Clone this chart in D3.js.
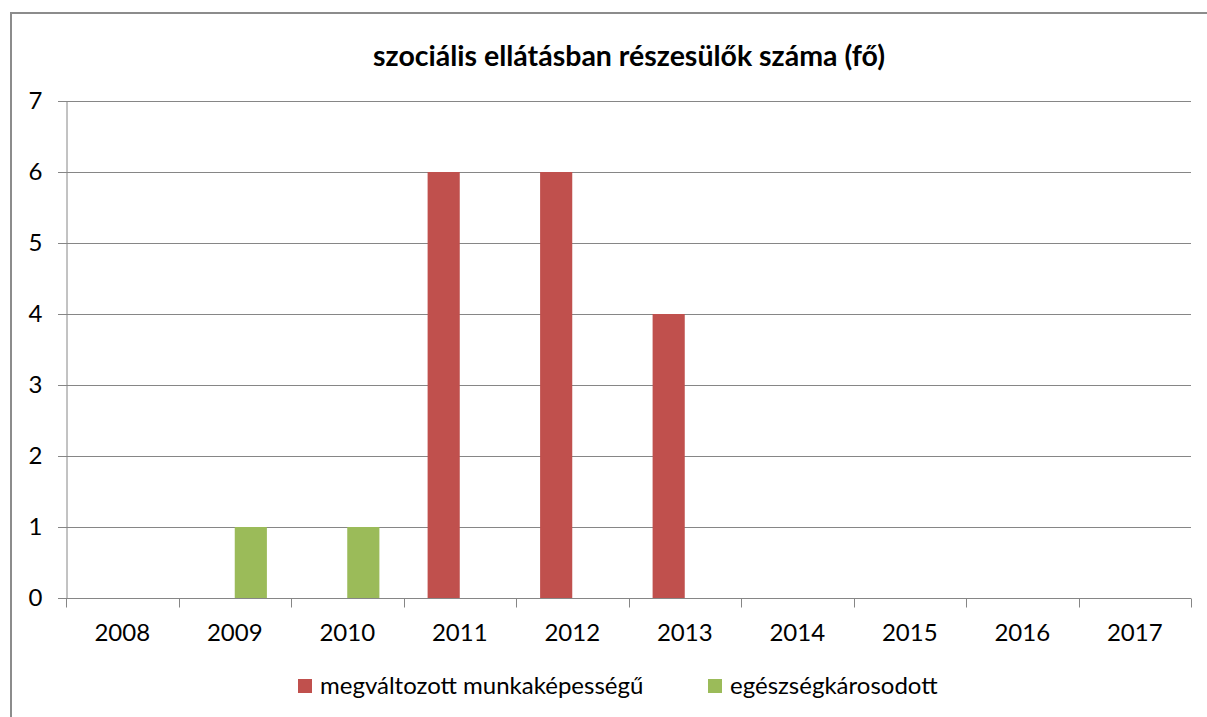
<!DOCTYPE html>
<html>
<head>
<meta charset="utf-8">
<script src="https://cdn.jsdelivr.net/npm/d3@7"></script>
<style>
  body { margin: 0; background: #fff; }
  #chart { width: 1207px; height: 717px; }
</style>
</head>
<body>
<div id="chart"></div>
<script>
// Chart data
let years = ['2008', '2009', '2010', '2011', '2012', '2013', '2014', '2015', '2016', '2017'];
let seriesNames = ['megváltozott munkaképességű', 'egészségkárosodott'];
let munkakepesseg = [0, 0, 0, 6, 6, 4, 0, 0, 0, 0];
let egeszseg = [0, 1, 1, 0, 0, 0, 0, 0, 0, 0];
let yTicks = [0, 1, 2, 3, 4, 5, 6, 7];
let colors = ['#C0504D', '#9BBB59'];

let width = 1207;
let height = 717;
let margin = { top: 101, right: 16, bottom: 119, left: 66 };
let font = 'Lato, "Open Sans", sans-serif';

let svg = d3.select('#chart').append('svg')
  .attr('width', width)
  .attr('height', height);

// Outer chart border
svg.append('rect')
  .attr('x', 11).attr('y', 13)
  .attr('width', width + 10).attr('height', height + 10)
  .attr('fill', 'none')
  .attr('stroke', '#8c8c8c')
  .attr('stroke-width', 2);

// Title
svg.append('text')
  .attr('x', 629).attr('y', 66)
  .attr('text-anchor', 'middle')
  .attr('font-family', font)
  .attr('font-weight', 'bold')
  .attr('font-size', 28.5)
  .attr('fill', '#000')
  .text('szociális ellátásban részesülők száma (fő)');

// Scales
let x = d3.scaleBand()
  .domain(years)
  .range([margin.left, width - margin.right]);

let xInner = d3.scaleBand()
  .domain(seriesNames)
  .range([0, x.bandwidth()])
  .paddingInner(0)
  .paddingOuter(0.75);

let y = d3.scaleLinear()
  .domain([0, 7])
  .range([height - margin.bottom, margin.top]);

// Gridlines
svg.append('g')
  .selectAll('line')
  .data(yTicks.filter(d => d > 0))
  .enter()
  .append('line')
  .attr('x1', margin.left - 8)
  .attr('x2', width - margin.right)
  .attr('y1', d => Math.round(y(d)) + 0.5)
  .attr('y2', d => Math.round(y(d)) + 0.5)
  .attr('stroke', '#868686')
  .attr('stroke-width', 1);

// Bars
let table = years.map((yr, i) => ({ year: yr, values: [munkakepesseg[i], egeszseg[i]] }));

let groups = svg.selectAll('g.year')
  .data(table)
  .enter()
  .append('g')
  .classed('year', true)
  .attr('transform', d => `translate(${x(d.year)},0)`);

groups.selectAll('rect')
  .data(d => d.values.map((v, j) => ({ name: seriesNames[j], value: v, j: j })))
  .enter()
  .append('rect')
  .attr('x', d => xInner(d.name))
  .attr('width', xInner.bandwidth())
  .attr('y', d => y(d.value))
  .attr('height', d => y(0) - y(d.value))
  .attr('fill', d => colors[d.j]);

// Y axis
let yAxis = svg.append('g')
  .attr('transform', `translate(${margin.left + 0.5},0)`)
  .call(d3.axisLeft(y).tickValues(yTicks).tickSize(8).tickPadding(16).tickFormat(d3.format('d')));
yAxis.select('.domain').attr('stroke', '#868686');
yAxis.selectAll('.tick line').attr('stroke', '#868686');
yAxis.selectAll('text')
  .attr('font-family', font)
  .attr('font-size', 24)
  .attr('fill', '#000');

// X axis
let xAxisG = svg.append('g')
  .attr('transform', `translate(0,${Math.round(y(0)) + 0.5})`);
xAxisG.append('line')
  .attr('x1', margin.left - 8).attr('x2', width - margin.right)
  .attr('stroke', '#868686');
xAxisG.selectAll('line.tick')
  .data(years.concat(['end']))
  .enter()
  .append('line')
  .classed('tick', true)
  .attr('x1', (d, i) => Math.round(i < years.length ? x(d) : x(years[years.length - 1]) + x.bandwidth()) + 0.5)
  .attr('x2', (d, i) => Math.round(i < years.length ? x(d) : x(years[years.length - 1]) + x.bandwidth()) + 0.5)
  .attr('y1', 0).attr('y2', 9)
  .attr('stroke', '#868686');
xAxisG.selectAll('text')
  .data(years)
  .enter()
  .append('text')
  .attr('x', d => x(d) + x.bandwidth() / 2)
  .attr('y', 42)
  .attr('text-anchor', 'middle')
  .attr('font-family', font)
  .attr('font-size', 24)
  .attr('fill', '#000')
  .text(d => d);

// Legend
let legendX = [298, 708];
let legend = svg.selectAll('g.legend')
  .data(seriesNames)
  .enter()
  .append('g')
  .classed('legend', true)
  .attr('transform', (d, i) => `translate(${legendX[i]},679)`);
legend.append('rect')
  .attr('width', 14).attr('height', 14)
  .attr('fill', (d, i) => colors[i]);
legend.append('text')
  .attr('x', 22).attr('y', 15)
  .attr('font-family', font)
  .attr('font-size', 24)
  .attr('fill', '#000')
  .text(d => d);
</script>
</body>
</html>
